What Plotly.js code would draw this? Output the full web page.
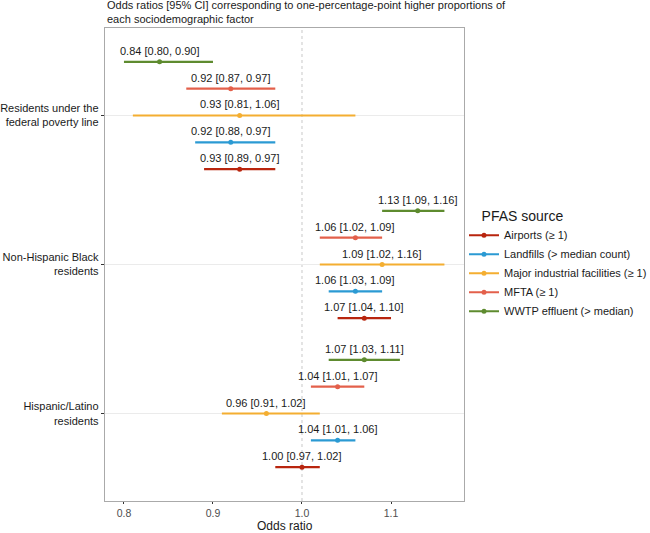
<!DOCTYPE html>
<html>
<head>
<meta charset="utf-8">
<script src="https://cdn.plot.ly/plotly-3.0.1.min.js"></script>
<style>html,body{margin:0;padding:0;background:#fff;}#chart{width:650px;height:533px;}</style>
</head>
<body>
<div id="chart"></div>
<script>
// Sociodemographic factors (top to bottom)
var factors = ["Residents under the<br>federal poverty line", "Non-Hispanic Black<br>residents", "Hispanic/Latino<br>residents"];
// PFAS sources (legend order)
var sources = ["Airports (\u2265 1)", "Landfills (> median count)", "Major industrial facilities (\u2265 1)", "MFTA (\u2265 1)", "WWTP effluent (> median)"];
var colors = ["#B8250E", "#2B9AD3", "#F4AE31", "#E3604B", "#5E8B2F"];

// Odds ratios per source, one value per factor [poverty, black, hispanic]
var airportsOR = [0.93, 1.07, 1.00];
var airportsLo = [0.89, 1.04, 0.97];
var airportsHi = [0.97, 1.10, 1.02];

var landfillsOR = [0.92, 1.06, 1.04];
var landfillsLo = [0.88, 1.03, 1.01];
var landfillsHi = [0.97, 1.09, 1.06];

var industrialOR = [0.93, 1.09, 0.96];
var industrialLo = [0.81, 1.02, 0.91];
var industrialHi = [1.06, 1.16, 1.02];

var mftaOR = [0.92, 1.06, 1.04];
var mftaLo = [0.87, 1.02, 1.01];
var mftaHi = [0.97, 1.09, 1.07];

var wwtpOR = [0.84, 1.13, 1.07];
var wwtpLo = [0.80, 1.09, 1.03];
var wwtpHi = [0.90, 1.16, 1.11];

var xTicks = [0.8, 0.9, 1.0, 1.1];
var xTickText = ["0.8", "0.9", "1.0", "1.1"];

var series = [
  {or: airportsOR, lo: airportsLo, hi: airportsHi},
  {or: landfillsOR, lo: landfillsLo, hi: landfillsHi},
  {or: industrialOR, lo: industrialLo, hi: industrialHi},
  {or: mftaOR, lo: mftaLo, hi: mftaHi},
  {or: wwtpOR, lo: wwtpLo, hi: wwtpHi}
];

var groupPos = [3, 2, 1];
var dodge = [-0.36, -0.18, 0, 0.18, 0.36];

var traces = [];
var annotations = [];
var font = "Liberation Sans, Arial, Helvetica, sans-serif";

series.forEach(function(s, i) {
  var ys = groupPos.map(function(g) { return g + dodge[i]; });
  traces.push({
    type: "scatter", mode: "markers",
    x: s.or, y: ys,
    marker: {color: colors[i], size: 5},
    error_x: {
      type: "data", symmetric: false,
      array: s.or.map(function(v, k) { return s.hi[k] - v; }),
      arrayminus: s.or.map(function(v, k) { return v - s.lo[k]; }),
      color: colors[i], thickness: 2.2, width: 0
    },
    showlegend: false, hoverinfo: "x+y"
  });
  s.or.forEach(function(v, k) {
    annotations.push({
      x: v, y: ys[k], xref: "x", yref: "y",
      text: v.toFixed(2) + " [" + s.lo[k].toFixed(2) + ", " + s.hi[k].toFixed(2) + "]",
      showarrow: false, yshift: 11,
      font: {family: font, size: 11, color: "#1a1a1a"}
    });
  });
});

// chart title and x-axis title
annotations.push({
  x: 0, xref: "paper", xanchor: "left", align: "left",
  y: 1, yref: "paper", yanchor: "bottom", yshift: 1,
  text: "Odds ratios [95% CI] corresponding to one-percentage-point higher proportions of<br>each sociodemographic factor",
  showarrow: false,
  font: {family: font, size: 11, color: "#1a1a1a"}
});
annotations.push({
  x: 0.5, xref: "paper", xanchor: "center",
  y: 0, yref: "paper", yanchor: "top", yshift: -17, borderpad: 0,
  text: "Odds ratio", showarrow: false,
  font: {family: font, size: 12, color: "#1a1a1a"}
});

// legend entries
series.forEach(function(s, i) {
  traces.push({
    type: "scatter", mode: "lines+markers",
    x: [null], y: [null],
    name: sources[i],
    line: {color: colors[i], width: 2},
    marker: {color: colors[i], size: 5},
    showlegend: true
  });
});

var layout = {
  width: 650, height: 533,
  margin: {l: 105, r: 186, t: 28, b: 32, autoexpand: false},
  paper_bgcolor: "#fff", plot_bgcolor: "#fff",
  font: {family: font, size: 11, color: "#333"},
  xaxis: {
    range: [0.7787, 1.182],
    tickvals: xTicks, ticktext: xTickText,
    showgrid: false, zeroline: false,
    ticks: "outside", ticklen: 2, tickcolor: "#333", tickwidth: 1,
    tickfont: {family: font, size: 10.5, color: "#4d4d4d"},
    showline: true, mirror: true, linecolor: "#aaaaaa", linewidth: 1.2,
    automargin: false
  },
  yaxis: {
    range: [0.413, 3.587],
    tickvals: groupPos, ticktext: factors,
    showgrid: true, gridcolor: "#ebebeb", gridwidth: 1, zeroline: false,
    ticks: "outside", ticklen: 3, tickcolor: "#333",
    tickfont: {family: font, size: 11, color: "#1a1a1a"},
    showline: true, mirror: true, linecolor: "#aaaaaa", linewidth: 1.2,
    automargin: false
  },
  shapes: [{
    type: "line", xref: "x", yref: "paper", x0: 1.0, x1: 1.0, y0: 0, y1: 1,
    line: {color: "#c8c8c8", width: 1, dash: "dot"}, layer: "below"
  }],
  annotations: annotations,
  legend: {
    x: 1.0, xanchor: "left", y: 0.5, yanchor: "middle",
    title: {text: "&nbsp;&nbsp;&nbsp;&nbsp;PFAS source", font: {family: font, size: 14, color: "#1a1a1a"}},
    font: {family: font, size: 11, color: "#1a1a1a"},
    bgcolor: "rgba(0,0,0,0)", itemwidth: 30
  }
};

Plotly.newPlot("chart", traces, layout, {displayModeBar: false, staticPlot: true});
</script>
</body>
</html>
